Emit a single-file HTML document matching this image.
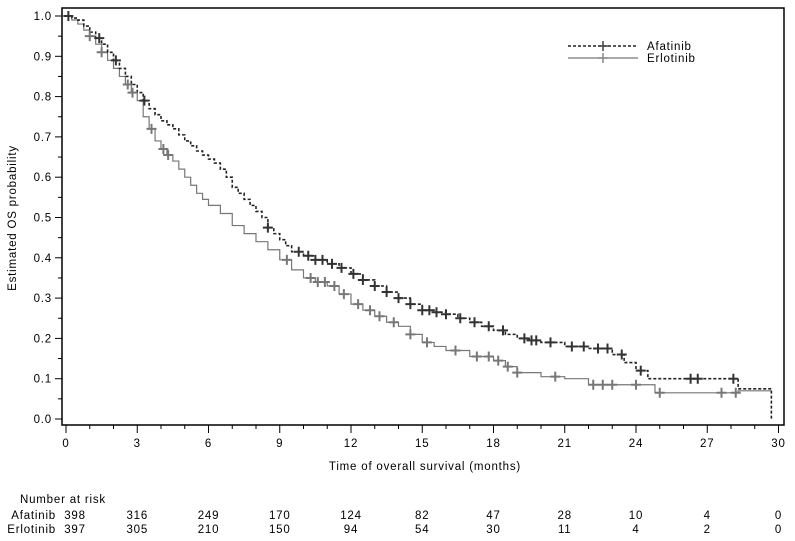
<!DOCTYPE html>
<html><head><meta charset="utf-8"><style>
body{margin:0;background:#fff;}
svg{display:block;font-family:"Liberation Sans",sans-serif;}
text{font-size:11.5px;fill:#000;letter-spacing:0.8px;font-stretch:condensed;}
</style></head><body>
<svg id="chart" width="795" height="541" viewBox="0 0 795 541"></svg>
<script>
const xTicks=[0,3,6,9,12,15,18,21,24,27,30];
const yTicks=[0,0.1,0.2,0.3,0.4,0.5,0.6,0.7,0.8,0.9,1.0];
const afaT=[0,0.25,0.5,0.75,1,1.25,1.5,1.75,2,2.25,2.5,2.75,3,3.25,3.5,3.75,4,4.25,4.5,4.75,5,5.25,5.5,5.75,6,6.25,6.5,6.75,7,7.25,7.5,7.75,8,8.25,8.5,8.75,9,9.25,9.5,10,10.5,11,11.5,12,12.5,13,13.5,14,14.5,15,15.5,16,16.5,17,17.5,18,18.5,19,19.5,20,21,22,23,23.5,24,24.5,28,28.3,29.7,29.7];
const afaS=[1,0.995,0.99,0.975,0.96,0.945,0.93,0.91,0.89,0.87,0.85,0.83,0.81,0.79,0.77,0.755,0.74,0.73,0.72,0.705,0.69,0.678,0.665,0.655,0.645,0.635,0.62,0.6,0.575,0.56,0.545,0.53,0.515,0.5,0.475,0.46,0.445,0.43,0.415,0.405,0.395,0.385,0.375,0.36,0.345,0.33,0.315,0.30,0.285,0.27,0.265,0.26,0.25,0.24,0.23,0.22,0.21,0.2,0.195,0.19,0.18,0.175,0.16,0.14,0.12,0.10,0.10,0.075,0.075,0];
const erlT=[0,0.25,0.5,0.75,1,1.25,1.5,1.75,2,2.25,2.5,2.75,3,3.25,3.5,3.75,4,4.25,4.5,4.75,5,5.25,5.5,5.75,6,6.5,7,7.5,8,8.5,9,9.5,10,10.5,11,11.5,12,12.5,13,13.5,14,14.5,15,15.5,16,17,18,18.5,19,20,21,22,24,24.8,28,28.3,29.7];
const erlS=[1,0.99,0.98,0.965,0.95,0.93,0.91,0.89,0.87,0.85,0.83,0.81,0.79,0.75,0.72,0.69,0.67,0.655,0.64,0.62,0.60,0.58,0.56,0.545,0.53,0.51,0.48,0.46,0.44,0.42,0.395,0.37,0.35,0.34,0.33,0.31,0.285,0.27,0.255,0.24,0.23,0.21,0.19,0.18,0.17,0.155,0.145,0.13,0.115,0.105,0.1,0.085,0.085,0.065,0.065,0.07,0.07];
const afaCens=[0.1,1.4,2.1,3.3,8.5,9.8,10.2,10.5,10.8,11.2,11.6,12.1,12.5,13,13.5,14,14.5,15,15.3,15.6,16,16.6,17.2,17.8,18.4,19.3,19.6,19.8,20.4,21.3,21.8,22.4,22.8,23.4,24.2,26.3,26.6,28.1];
const erlCens=[1,1.5,2.6,2.8,3.6,4.1,4.3,9.3,10.3,10.6,10.9,11.3,11.7,12.3,12.8,13.2,13.8,14.5,15.2,16.4,17.3,17.8,18.2,18.6,19,20.6,22.2,22.6,23,24,25,27.6,28.2];
const riskX=[0,3,6,9,12,15,18,21,24,27,30];
const afaRisk=[398,316,249,170,124,82,47,28,10,4,0];
const erlRisk=[397,305,210,150,94,54,30,11,4,2,0];
const NS="http://www.w3.org/2000/svg";
const svg=document.getElementById('chart');
const X=t=>66+t*23.75, Y=s=>419-s*403;
function el(tag,attrs,parent){const e=document.createElementNS(NS,tag);for(const k in attrs)e.setAttribute(k,attrs[k]);(parent||svg).appendChild(e);return e;}
function txt(x,y,s,anchor,name){const t=el('text',{x:x,y:y,'text-anchor':anchor||'middle'});t.textContent=s;return t;}
const frame=el('rect',{x:62,y:8,width:722,height:417,fill:'none',stroke:'#000','stroke-width':1.5});


xTicks.forEach(t=>{el('line',{x1:X(t),x2:X(t),y1:425,y2:433,stroke:'#000'});txt(X(t),447,String(t),'middle','x-tick-label');});
for(let m=0;m<=30;m++){if(m%3)el('line',{x1:X(m),x2:X(m),y1:425,y2:429,stroke:'#000'});}
yTicks.forEach(s=>{el('line',{x1:55,x2:62,y1:Y(s),y2:Y(s),stroke:'#000'});txt(52,Y(s)+4,s.toFixed(1),'end','y-tick-label');});
for(let i=0;i<20;i++){const s=i*0.05+0.05;if(Math.round(s*100)%10)el('line',{x1:58,x2:62,y1:Y(s),y2:Y(s),stroke:'#000'});}
txt(425,470,'Time of overall survival (months)','middle','x-axis-title');
const yt=txt(0,0,'Estimated OS probability','middle','y-axis-title');yt.setAttribute('transform','translate(16,218) rotate(-90)');
function step(T,S){let d='M'+X(T[0])+','+Y(S[0]);for(let i=1;i<T.length;i++){d+='H'+X(T[i])+'V'+Y(S[i]);}return d;}
function survAt(T,S,t){let s=S[0];for(let i=0;i<T.length;i++){if(T[i]<=t)s=S[i];}return s;}
const pe=el('path',{d:step(erlT,erlS),fill:'none',stroke:'#777','stroke-width':1.2});


const pa=el('path',{d:step(afaT,afaS),fill:'none',stroke:'#222','stroke-width':1.6,'stroke-dasharray':'3,2'});


function plus(x,y,c,w,name){const g=el('path',{d:`M${x-5},${y}H${x+5}M${x},${y-5}V${y+5}`,stroke:c,'stroke-width':w});}
erlCens.forEach(t=>plus(X(t),Y(survAt(erlT,erlS,t)),'#777',2,'erlotinib-censor'));
afaCens.forEach(t=>plus(X(t),Y(survAt(afaT,afaS,t)),'#333',2,'afatinib-censor'));
el('line',{x1:568,x2:638,y1:46,y2:46,stroke:'#222','stroke-width':1.6,'stroke-dasharray':'3,2'});
plus(603,46,'#444',1.5,'legend-afatinib-marker');
txt(647,50,'Afatinib','start','legend-afatinib');
el('line',{x1:568,x2:638,y1:58,y2:58,stroke:'#777','stroke-width':1.2});
plus(603,58,'#888',1.5,'legend-erlotinib-marker');
txt(647,62,'Erlotinib','start','legend-erlotinib');
txt(20,503,'Number at risk','start','risk-table-title');
txt(56,519,'Afatinib','end','risk-label-afatinib');
txt(56,533,'Erlotinib','end','risk-label-erlotinib');
riskX.forEach((t,i)=>{const x=i===0?75:X(t);txt(x,519,String(afaRisk[i]),'middle','risk-afatinib');txt(x,533,String(erlRisk[i]),'middle','risk-erlotinib');});
</script>
</body></html>
